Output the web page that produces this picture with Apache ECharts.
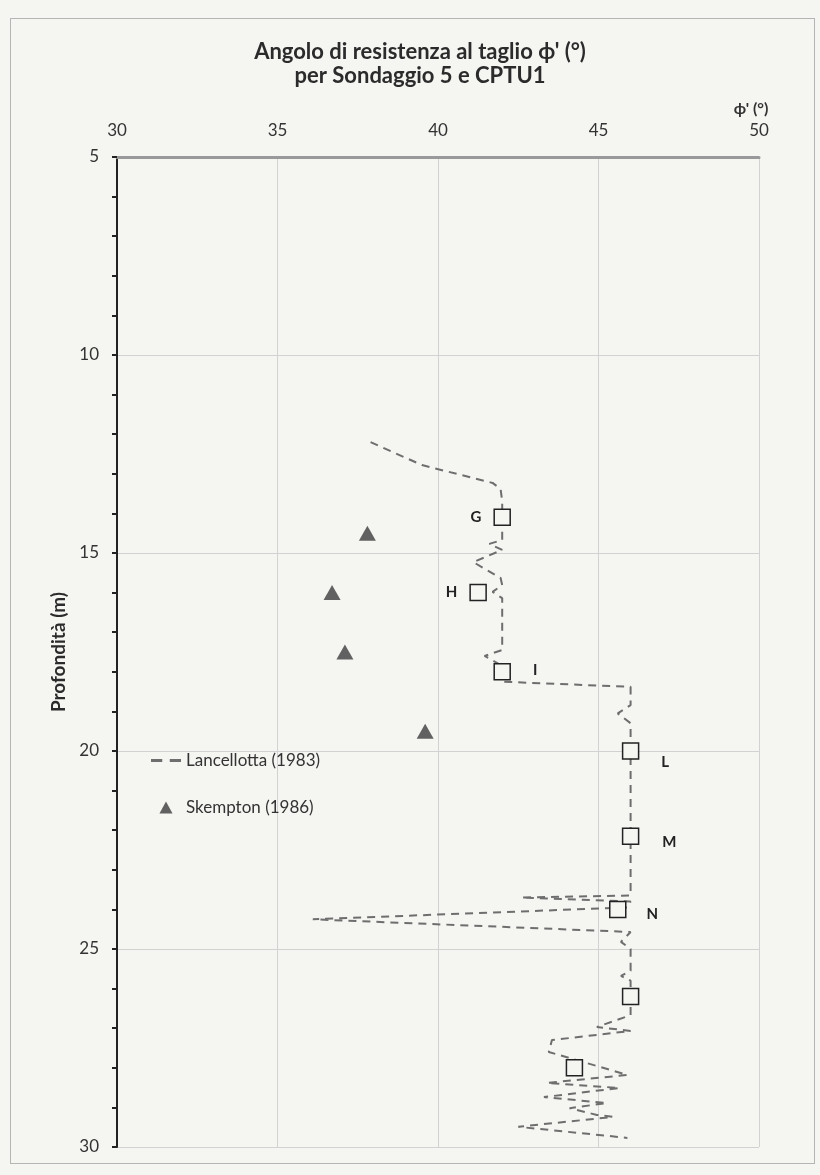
<!DOCTYPE html>
<html>
<head>
<meta charset="utf-8">
<script src="https://cdn.jsdelivr.net/npm/echarts@6/dist/echarts.min.js"></script>
<style>
  html, body { margin: 0; padding: 0; background: #f5f6f2; }
  #frame { position: absolute; left: 10px; top: 18px; width: 805px; height: 1146px; border: 1.5px solid #b5b5b5; box-sizing: border-box; }
  #chart { position: absolute; left: 0; top: 0; width: 820px; height: 1175px; }
</style>
</head>
<body>
<div id="frame"></div>
<div id="chart"></div>
<script>
// ---- Data ----
const xTicks = [30, 35, 40, 45, 50];
const yTicks = [5, 10, 15, 20, 25, 30];

// Lancellotta (1983) - dashed profile (phi', depth)
const lancPhi = [37.9, 39.5, 41.7, 41.95, 42.0, 42.0, 41.6, 42.0, 41.1, 41.95, 42.0, 41.7, 42.0, 42.0, 41.45, 42.0, 42.0,
  46.0, 46.0, 45.6, 46.0, 46.0, 42.6, 46.0, 45.9, 36.1, 46.0, 45.7, 46.0, 46.0, 45.7, 46.0, 46.0,
  44.95, 46.0, 43.55, 43.45, 45.9, 43.4, 45.65, 43.3, 45.25, 44.1, 44.95, 45.45, 42.5, 45.9];
const lancDepth = [12.2, 12.78, 13.23, 13.38, 13.7, 14.67, 14.77, 14.92, 15.23, 15.63, 15.81, 15.98, 16.14, 17.45, 17.6, 17.85, 18.25,
  18.38, 18.84, 19.05, 19.3, 23.65, 23.7, 23.8, 23.95, 24.25, 24.57, 24.82, 25.0, 25.55, 25.68, 25.8, 26.67,
  26.97, 27.07, 27.3, 27.6, 28.18, 28.38, 28.51, 28.74, 28.89, 29.02, 29.19, 29.24, 29.49, 29.77];

// Skempton (1986) - triangles
const skemPhi = [37.8, 36.7, 37.1, 39.6];
const skemDepth = [14.5, 16.0, 17.5, 19.5];

// CPTU1 points - open squares
const cptuPhi = [42.0, 41.25, 42.0, 46.0, 46.0, 45.6, 46.0, 44.25];
const cptuDepth = [14.1, 16.0, 18.0, 20.0, 22.15, 24.0, 26.2, 28.0];
const cptuNames = ['G', 'H', 'I', 'L', 'M', 'N', '', ''];

// ---- Label placement (style) ----
const labelStyle = {
  G: { position: 'left', distance: 12, offset: [0, 0] },
  H: { position: 'left', distance: 12, offset: [0, 0] },
  I: { position: 'right', distance: 22, offset: [0, -2] },
  L: { position: 'right', distance: 22, offset: [0, 11] },
  M: { position: 'right', distance: 23, offset: [0, 6] },
  N: { position: 'right', distance: 20, offset: [0, 5] }
};

const FONT = 'Lato, "Open Sans", sans-serif';
const chart = echarts.init(document.getElementById('chart'), null, { renderer: 'canvas' });

const lancData = lancPhi.map((p, i) => [p, lancDepth[i]]);
const skemData = skemPhi.map((p, i) => [p, skemDepth[i]]);
const cptuData = cptuPhi.map((p, i) => {
  const name = cptuNames[i];
  const item = { value: [p, cptuDepth[i]], name: name };
  if (name && labelStyle[name]) {
    item.label = Object.assign({ show: true, formatter: name }, labelStyle[name]);
  }
  return item;
});

chart.setOption({
  backgroundColor: 'transparent',
  animation: false,
  textStyle: { fontFamily: FONT },
  title: {
    text: "Angolo di resistenza al taglio \u03d5' (\u00b0)\nper Sondaggio 5 e CPTU1",
    left: 415, top: 35, textAlign: 'center',
    textStyle: { fontFamily: FONT, fontSize: 22, fontWeight: 'bold', color: '#2b2b2b', lineHeight: 24 }
  },
  legend: {
    orient: 'vertical', left: 146, top: 747, itemGap: 30,
    itemWidth: 30, itemHeight: 12,
    data: [
      { name: 'Lancellotta (1983)', icon: 'path://M0,0h9v2.4h-9z M15,0h9v2.4h-9z', itemStyle: { color: '#6e6e6e' } },
      { name: 'Skempton (1986)', icon: 'path://M6,0 L12,11 L0,11 Z', itemStyle: { color: '#3c3c3c' } }
    ],
    textStyle: { fontFamily: FONT, fontSize: 17, color: '#333' }
  },
  grid: { left: 117, right: 61, top: 157, bottom: 28 },
  xAxis: {
    type: 'value', position: 'top', min: 30, max: 50, interval: 5,
    name: "\u03d5' (\u00b0)", nameLocation: 'end', nameGap: 0,
    nameTextStyle: { fontFamily: FONT, fontSize: 16, fontWeight: 'bold', color: '#333', align: 'center', verticalAlign: 'bottom', padding: [0, 16, 40, 0] },
    axisLine: { show: true, lineStyle: { color: '#999', width: 3 } },
    axisTick: { show: false },
    axisLabel: { fontFamily: FONT, fontSize: 17, color: '#333', margin: 18 },
    splitLine: { show: true, lineStyle: { color: '#d2d2d2', width: 1 } }
  },
  yAxis: {
    type: 'value', inverse: true, min: 5, max: 30, interval: 5,
    name: 'Profondit\u00e0 (m)', nameLocation: 'middle', nameGap: 44,
    nameTextStyle: { fontFamily: FONT, fontSize: 19, fontWeight: 'bold', color: '#2b2b2b' },
    axisLine: { show: true, lineStyle: { color: '#222', width: 2 } },
    axisTick: { show: true, inside: false, length: 5, lineStyle: { color: '#222', width: 2 } },
    minorTick: { show: true, splitNumber: 5, length: 5, lineStyle: { color: '#222', width: 2 } },
    axisLabel: { fontFamily: FONT, fontSize: 17, color: '#333', margin: 18 },
    splitLine: { show: true, lineStyle: { color: '#d2d2d2', width: 1 } }
  },
  series: [
    {
      name: 'Lancellotta (1983)', type: 'line', data: lancData,
      symbol: 'none', smooth: false,
      lineStyle: { color: '#6e6e6e', width: 2, type: [8, 6] },
      itemStyle: { color: '#6e6e6e' },
      z: 2
    },
    {
      name: 'Skempton (1986)', type: 'scatter', data: skemData,
      symbol: 'triangle', symbolSize: [17, 15],
      itemStyle: { color: '#3c3c3c' },
      z: 3
    },
    {
      name: 'CPTU1', type: 'scatter', data: cptuData,
      symbol: 'rect', symbolSize: 16,
      itemStyle: { color: '#f5f6f2', borderColor: '#222', borderWidth: 1.5, opacity: 1 },
      label: { show: false, fontFamily: FONT, fontSize: 15, fontWeight: 'bold', color: '#222' },
      z: 4
    }
  ]
});
</script>
</body>
</html>
